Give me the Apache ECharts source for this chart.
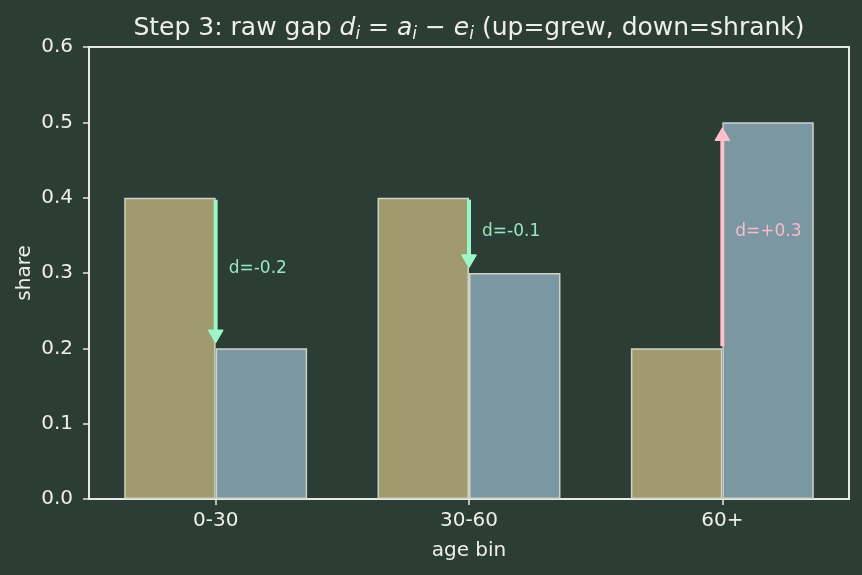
<!DOCTYPE html>
<html>
<head>
<meta charset="utf-8">
<script src="https://cdn.jsdelivr.net/npm/echarts@6/dist/echarts.min.js"></script>
<style>
html,body{margin:0;padding:0;background:#2b3d35;}
#c{width:862px;height:575px;}
</style>
</head>
<body>
<div id="c"></div>
<script>
// Data
const categories = ['0-30', '30-60', '60+'];
const expectedShare = [0.4, 0.4, 0.2];   // e_i (left bars)
const actualShare = [0.2, 0.3, 0.5];     // a_i (right bars)
const yTicks = [0.0, 0.1, 0.2, 0.3, 0.4, 0.5, 0.6];

const FG = '#eef0e8';
const SPINE = '#e6eae2';
const FONT = 'DejaVu Sans';

const arrowData = categories.map((c, i) => [i, expectedShare[i], actualShare[i]]);

function fmtD(d) {
  const r = Math.round(d * 10) / 10;
  return 'd=' + (r > 0 ? '+' : (r < 0 ? '-' : '')) + Math.abs(r).toFixed(1);
}

const chart = echarts.init(document.getElementById('c'), null, {renderer: 'canvas'});

const option = {
  backgroundColor: '#2b3d35',
  animation: false,
  textStyle: {fontFamily: FONT},
  graphic: [{
    type: 'text',
    x: 469, y: 28,
    style: {
      text: '{n|Step 3: raw gap }{m|d}{s|i}{n| = }{m|a}{s|i}{n| − }{m|e}{s|i}{n| (up=grew, down=shrank)}',
      textAlign: 'center',
      textVerticalAlign: 'middle',
      fill: FG,
      rich: {
        n: {fontSize: 25, fontFamily: FONT, color: FG, lineHeight: 31},
        m: {fontSize: 25, fontFamily: FONT, fontStyle: 'italic', color: FG, lineHeight: 31},
        s: {fontSize: 17, fontFamily: FONT, fontStyle: 'italic', color: FG, lineHeight: 31, verticalAlign: 'bottom'}
      }
    }
  }],
  grid: {
    left: 89, right: 13, top: 47, bottom: 76,
    show: true, borderColor: SPINE, borderWidth: 2, backgroundColor: 'transparent'
  },
  xAxis: {
    type: 'category',
    data: categories,
    axisLine: {show: true, lineStyle: {color: SPINE, width: 2}},
    axisTick: {show: true, alignWithLabel: true, length: 6, lineStyle: {color: SPINE, width: 1.5}},
    axisLabel: {color: FG, fontSize: 20, margin: 12, fontFamily: FONT},
    splitLine: {show: false},
    name: 'age bin',
    nameLocation: 'middle',
    nameGap: 42,
    nameMoveOverlap: false,
    nameTextStyle: {color: FG, fontSize: 20, fontFamily: FONT}
  },
  yAxis: {
    type: 'value',
    min: 0, max: 0.6, interval: 0.1,
    axisLine: {show: true, lineStyle: {color: SPINE, width: 2}},
    axisTick: {show: true, length: 6, lineStyle: {color: SPINE, width: 1.5}},
    axisLabel: {color: FG, fontSize: 20, margin: 16, fontFamily: FONT,
      formatter: v => v.toFixed(1)},
    splitLine: {show: false},
    name: 'share',
    nameLocation: 'middle',
    nameGap: 54,
    nameMoveOverlap: false,
    nameTextStyle: {color: FG, fontSize: 20, fontFamily: FONT}
  },
  series: [
    {
      name: 'e',
      type: 'bar',
      data: expectedShare,
      barWidth: '36.1%',
      barGap: '0%',
      itemStyle: {color: '#a09b6f', borderColor: '#cfd2c6', borderWidth: 1.5},
      z: 2
    },
    {
      name: 'a',
      type: 'bar',
      data: actualShare,
      barWidth: '36.1%',
      barGap: '0%',
      itemStyle: {color: '#7b97a1', borderColor: '#cfd2c6', borderWidth: 1.5},
      z: 2
    },
    {
      name: 'gap',
      type: 'custom',
      data: arrowData,
      encode: {x: 0, y: [1, 2]},
      z: 5,
      renderItem: function (params, api) {
        const idx = api.value(0);
        const e = api.value(1);
        const a = api.value(2);
        const d = a - e;
        const up = d > 0;
        const color = up ? '#ffc0cb' : '#9cf7c8';
        const lblColor = up ? '#f5bccd' : '#98e6bd';
        const p1 = api.coord([idx, e]);
        const p2 = api.coord([idx, a]);
        const dir = up ? -1 : 1; // pixel direction (down positive)
        const startY = p1[1] + dir * 2;
        const tipY = p2[1] - dir * 6;
        const headLen = 12, headHalf = 7;
        const baseY = tipY - dir * headLen;
        const x = p1[0];
        const mid = api.coord([idx, (e + a) / 2]);
        return {
          type: 'group',
          children: [
            {
              type: 'line',
              shape: {x1: x, y1: startY, x2: x, y2: baseY + dir * 2},
              style: {stroke: color, lineWidth: 4}
            },
            {
              type: 'polygon',
              shape: {points: [[x, tipY], [x - headHalf, baseY], [x + headHalf, baseY]]},
              style: {fill: color, stroke: color, lineWidth: 1.5, lineJoin: 'round'}
            },
            {
              type: 'text',
              x: mid[0] + 13,
              y: mid[1] - 4,
              style: {
                text: fmtD(d),
                fill: lblColor,
                fontSize: 17,
                fontFamily: FONT,
                textAlign: 'left',
                textVerticalAlign: 'middle'
              }
            }
          ]
        };
      }
    }
  ]
};

chart.setOption(option);
</script>
</body>
</html>
